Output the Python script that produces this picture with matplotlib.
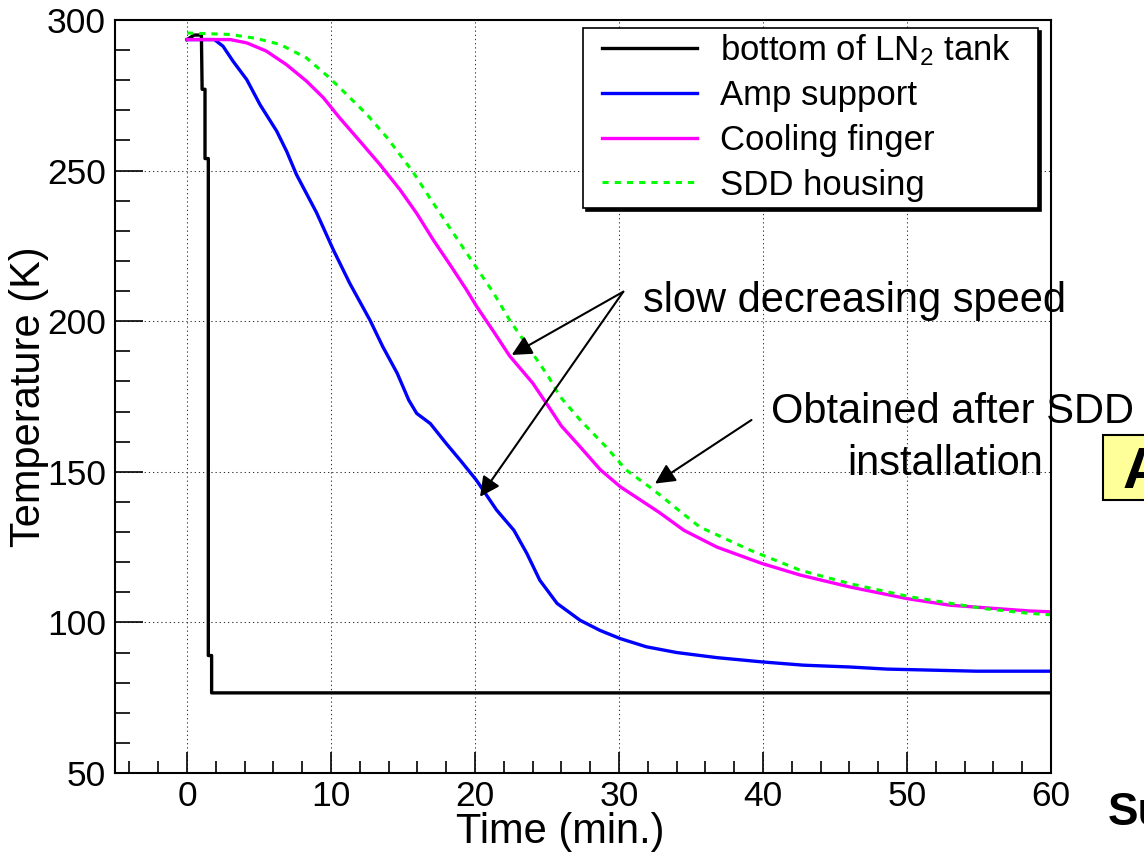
import matplotlib
matplotlib.use("Agg")
import matplotlib.pyplot as plt
from matplotlib.patches import Rectangle
from matplotlib.ticker import MultipleLocator

plt.rcParams["font.family"] = ["Liberation Sans", "DejaVu Sans"]
plt.rcParams["mathtext.fontset"] = "custom"
plt.rcParams["mathtext.rm"] = "Liberation Sans"
plt.rcParams["mathtext.default"] = "regular"

# time in minutes, temperature in K
tank_t = [0, 0.5, 1.0, 1.05, 1.25, 1.25, 1.48, 1.48, 1.71, 1.71, 60]
tank_T = [293.5, 295, 295, 277, 277, 254, 254, 89, 89, 76.6, 76.6]

amp_t = [0, 1.9, 2.5, 3.2, 4.15, 5.07, 6.23, 6.92, 7.6, 9.0, 10.16, 11.3,
         12.7, 13.6, 14.6, 15.4, 15.95, 16.9, 18.0, 19.0, 20.1, 21.5, 22.7,
         23.6, 24.5, 25.7, 27.3, 28.7, 30.1, 31.9, 34.0, 36.8, 39.9, 42.8,
         46.0, 48.6, 54.8, 60]
amp_T = [293.5, 293.5, 291.3, 286.3, 280.2, 271.9, 263.1, 256.4, 248.7, 236,
         223.7, 212.6, 200.4, 191.5, 182.7, 173.8, 169.4, 166, 159.4, 153.7,
         147.2, 137.3, 130.6, 122.9, 114, 106.3, 100.7, 97.3, 94.6, 91.9, 90.0,
         88.3, 86.9, 85.8, 85.2, 84.5, 83.8, 83.8]

finger_t = [0, 3.0, 4.15, 5.5, 6.9, 8.3, 9.47, 10.6, 12.0, 13.4, 14.8, 15.95,
            17.1, 18.3, 19.4, 20.1, 21.3, 22.4, 24.0, 25.2, 26.0, 27.3, 28.7,
            30.1, 31.5, 32.8, 34.5, 36.8, 39.9, 42.6, 46.0, 50.0, 53.0, 58.5, 60]
finger_T = [293.5, 293.5, 292.4, 289.7, 285.2, 279.7, 274.2, 267.5, 259.8, 252,
            243.6, 235.8, 227, 218.5, 210.5, 205, 196.5, 188.5, 179.5, 171.0,
            165.2, 158.3, 150.7, 145, 140.6, 136.5, 130.6, 125, 119.6, 115.7,
            111.8, 107.9, 105.7, 103.8, 103.5]

sdd_t = [0, 3.0, 4.8, 6.46, 8.3, 9.9, 11.1, 12.5, 13.9, 15.7, 17.1, 18.5, 19.9,
         21.3, 22.4, 24.0, 25.1, 25.9, 27.3, 29.1, 30.5, 32.4, 34.0, 35.6, 39.1,
         42.6, 46.0, 50.2, 55.3, 58.5, 60]
sdd_T = [295.7, 295.2, 293.9, 291.9, 287.4, 280.8, 275.2, 268.6, 260.9, 249.5,
         239.2, 229.2, 219.2, 209.3, 200.4, 189.3, 181.6, 175, 167.2, 158.3,
         150.6, 144, 137.8, 131.7, 124, 117.3, 112.9, 108.5, 104.6, 103.0, 102.5]

labels = ["bottom of LN$_2$ tank", "Amp support", "Cooling finger", "SDD housing"]

W, H = 1144, 856
AX_L, AX_R, AX_T, AX_B = 115, 1051, 20, 773


def axfrac(px, py):
    # pixel position in the image -> axes fraction
    return ((px - AX_L) / (AX_R - AX_L), (AX_B - py) / (AX_B - AX_T))


fig = plt.figure(figsize=(W / 100, H / 100), dpi=100)
ax = fig.add_axes([AX_L / W, 1 - AX_B / H, (AX_R - AX_L) / W, (AX_B - AX_T) / H])

lines = [
    ax.plot(tank_t, tank_T, color="black", lw=2.4)[0],
    ax.plot(amp_t, amp_T, color="#0000ff", lw=2.4)[0],
    ax.plot(finger_t, finger_T, color="#ff00ff", lw=2.4)[0],
    ax.plot(sdd_t, sdd_T, color="#00ff00", lw=2.2, linestyle=(0, (2.0, 2.0)))[0],
]

ax.set_xlim(-5, 60)
ax.set_ylim(50, 300)
ax.xaxis.set_major_locator(MultipleLocator(10))
ax.xaxis.set_minor_locator(MultipleLocator(2))
ax.yaxis.set_major_locator(MultipleLocator(50))
ax.yaxis.set_minor_locator(MultipleLocator(10))
ax.tick_params(which="both", direction="in", top=False, right=False,
               labelsize=25.5, width=1.2, color="black")
ax.tick_params(axis="x", which="major", length=15, pad=5)
ax.tick_params(axis="x", which="minor", length=8.6)
ax.tick_params(axis="y", which="major", length=20, pad=6.5)
ax.tick_params(axis="y", which="minor", length=10.8)
ax.grid(True, which="major", color="#333333", lw=0.75, linestyle=(0, (1.2, 2.8)))
for s in ax.spines.values():
    s.set_linewidth(1.5)

ax.set_xlabel("Time (min.)", fontsize=30)
ax.set_ylabel("Temperature (K)", fontsize=30)
ax.xaxis.set_label_coords(0.476, -0.0518)
ax.yaxis.set_label_coords(-0.071, 0.5)

# legend, ROOT-like box with shadow
x0, y0 = axfrac(583, 208)
x1, y1 = axfrac(1038, 28)
ax.add_patch(Rectangle((x0 + 3 / 936, y0 - 3 / 753), x1 - x0, y1 - y0,
                       transform=ax.transAxes, fc="black", ec="black",
                       lw=1.2, zorder=4))
ax.add_patch(Rectangle((x0, y0), x1 - x0, y1 - y0, transform=ax.transAxes,
                       fc="white", ec="black", lw=1.2, zorder=5))
leg = ax.legend(lines, labels, loc="upper left", bbox_to_anchor=axfrac(601.7, 32),
                frameon=False, borderpad=0, borderaxespad=0, fontsize=25,
                handlelength=2.74, handletextpad=0.67, labelspacing=0.335)
leg.set_zorder(6)

arrow = dict(arrowstyle="-|>", color="black", lw=1.5, mutation_scale=30,
             shrinkA=0, shrinkB=0)
ax.annotate("", xy=(22.55, 188.8), xytext=(30.3, 209.8), arrowprops=arrow)
ax.annotate("", xy=(20.35, 141.7), xytext=(30.3, 209.8), arrowprops=arrow)
ax.annotate("", xy=(32.5, 146.1), xytext=(39.2, 167.2), arrowprops=arrow)

ax.text(31.67, 203.1, "slow decreasing speed", fontsize=30, va="baseline")
ax.text(40.55, 166.2, "Obtained after SDD", fontsize=30, va="baseline")
ax.text(59.44, 148.9, "installation", fontsize=30, va="baseline", ha="right")

# bits of the slide outside the plot
fig.patches.append(Rectangle((1103 / W, 1 - 500 / H), 0.1, 65 / H,
                             transform=fig.transFigure, fc="#ffff99",
                             ec="black", lw=1.5))
fig.text(1123 / W, 1 - 488 / H, "A", fontsize=42, fontweight="bold", va="baseline")
fig.text(1108 / W, 1 - 825 / H, "Su", fontsize=33, fontweight="bold", va="baseline")

fig.savefig("out.png", dpi=100)
